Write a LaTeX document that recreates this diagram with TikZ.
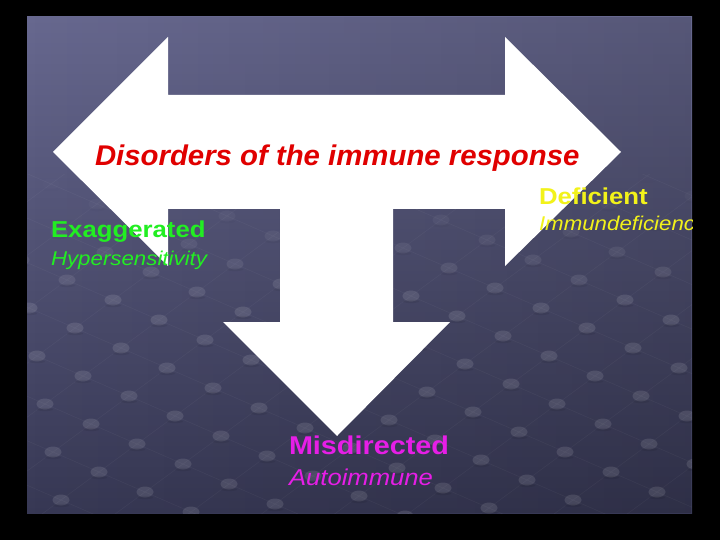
\documentclass[tikz,border=0pt]{standalone}
\usepackage{fontspec}
\setmainfont{Liberation Sans}
\usetikzlibrary{fadings}
\definecolor{bgtop}{HTML}{67688F}
\definecolor{bgbot}{HTML}{373854}
\definecolor{tred}{HTML}{E00000}
\definecolor{tgreen}{HTML}{22EE22}
\definecolor{tyellow}{HTML}{F2F21A}
\definecolor{tmag}{HTML}{E61EE6}
\begin{document}
\begin{tikzpicture}[x=1pt,y=-1pt,
  lbl/.style={anchor=base west, inner sep=0pt, outer sep=0pt},
  gridln/.style={draw=white, draw opacity=0.04, line width=0.6pt}]
\useasboundingbox (0,0) rectangle (720,540);
\fill[black] (0,0) rectangle (720,540);
\shade[top color=bgtop, bottom color=bgbot] (27,17) rectangle (692,513);
\fill[black, fill opacity=0.16, path fading=west] (27,17) rectangle (692,513);
% background dot pattern
\begin{scope}
\clip (27,175) rectangle (692,513);
\foreach \i in {-6,...,12}{
  \draw[gridln] ({121+\i*46-6*38},{348+\i*20+6*28}) -- ({121+\i*46+11*38},{348+\i*20-11*28});
}
\foreach \j in {-6,...,11}{
  \draw[gridln] ({121-6*46+\j*38},{348-6*20-\j*28}) -- ({121+12*46+\j*38},{348+12*20-\j*28});
}
\end{scope}
\begin{scope}
\clip (27,17) rectangle (692,513);
\foreach \i in {-6,...,12}{
  \foreach \j in {-6,...,11}{
    \pgfmathsetmacro\px{121+\i*46+\j*38}
    \pgfmathsetmacro\py{348+\i*20-\j*28}
    \pgfmathsetmacro\op{max(0,min(0.11,(\py-170)/1200))}
    \fill[white, fill opacity=\op] (\px,\py) ellipse (8.5 and 5.5);
    \fill[black, fill opacity=\op*0.6] (\px,\py+5.5) ellipse (8 and 1.6);
  }
}
\end{scope}
% white T-arrow
\fill[white] (53,152) -- (168,37) -- (168,95) -- (505,95) -- (505,37) -- (621,152)
  -- (505,266) -- (505,209) -- (393,209) -- (393,322) -- (450,322) -- (337,436)
  -- (223,322) -- (280,322) -- (280,209) -- (168,209) -- (168,266) -- cycle;
% texts
\node[lbl, text=tred, font=\fontsize{28.5}{30}\selectfont\bfseries\itshape] (title) at (95,165.5) {\scalebox{1.03}[1]{Disorders of the immune response}};
\node[lbl, text=tgreen, font=\fontsize{23}{26}\selectfont\bfseries] (exa) at (51,237.5) {\scalebox{1.12}[1]{Exaggerated}};
\node[lbl, text=tgreen, font=\fontsize{19.9}{22}\selectfont\itshape] (hyp) at (51,265) {\scalebox{1.12}[1]{Hypersensitivity}};
\node[lbl, text=tyellow, font=\fontsize{23}{26}\selectfont\bfseries] (def) at (539,205) {\scalebox{1.12}[1]{Deficient}};
\begin{scope}
\clip (27,17) rectangle (692,513);
\node[lbl, text=tyellow, font=\fontsize{19.9}{22}\selectfont\itshape] (imm) at (539,230) {\scalebox{1.12}[1]{Immundeficiency}};
\end{scope}
\node[lbl, text=tmag, font=\fontsize{25.7}{28}\selectfont\bfseries] (mis) at (289,454) {\scalebox{1.12}[1]{Misdirected}};
\node[lbl, text=tmag, font=\fontsize{22.9}{25}\selectfont\itshape] (auto) at (289,485) {\scalebox{1.12}[1]{Autoimmune}};
\end{tikzpicture}
\end{document}
